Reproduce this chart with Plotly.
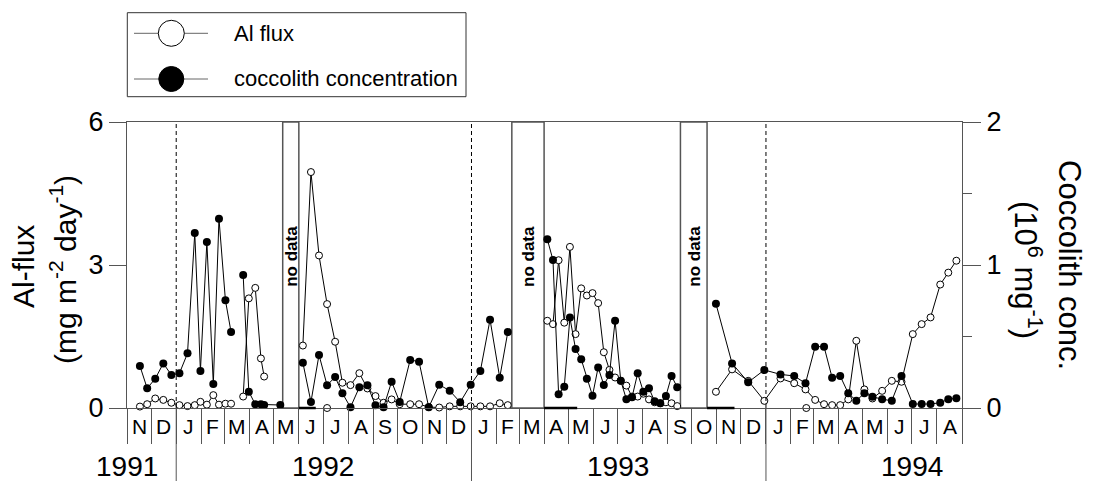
import pandas as pd
import plotly.graph_objects as go

# ---------------- data ----------------
START = pd.Timestamp('1991-11-01')
END = pd.Timestamp('1994-09-01')

# sample days since 1 Nov 1991 (entries with None values are gaps between sampling periods)
sample_day = [16, 25, 35, 45, 55, 65, 75, 84, 91, 99, 107, 114, 122, 129,
              136,
              144, 151, 159, 166, 170, 190,
              204,
              218, 228, 238, 248, 258, 267, 277, 288, 298, 308, 318, 328, 338, 351, 362, 374,
              387, 400, 413, 426, 438, 450, 462, 472,
              496,
              521, 528, 535, 542, 549, 556, 563, 570, 577, 584, 591, 598, 605, 612, 619, 626,
              633, 640, 647, 654, 661, 668, 675, 682,
              705,
              730, 750, 770, 790, 810, 827, 841, 853, 864, 874, 884, 894, 904, 914, 924, 936,
              948, 960, 974, 985, 996, 1008, 1018, 1028]

al_flux = [0.03, 0.08, 0.20, 0.17, 0.11, 0.06, 0.04, 0.06, 0.13, 0.07, 0.27, 0.07, 0.09, 0.09,
           None,
           0.24, 2.30, 2.52, 1.04, 0.66, None,
           None,
           1.31, 4.95, 3.20, 2.18, 1.39, 0.53, 0.48, 0.73, 0.41, 0.25, 0.11, 0.18, 0.08, 0.08, 0.08, 0.02,
           0.01, 0.035, 0.035, 0.035, 0.035, 0.035, 0.10, 0.06,
           None,
           1.83, 1.76, 3.10, 1.79, 3.38, 1.55, 2.51, 2.36, 2.41, 2.20, 1.17, 0.80, 0.64, 0.57, 0.47, 0.24,
           0.24, 0.30, 0.18, 0.12, 0.10, 0.12, 0.10, 0.04,
           None,
           0.34, 0.81, 0.57, 0.15, 0.62, 0.52, 0.39, 0.17, 0.08, 0.06, 0.06, 0.18, 1.41, 0.39, 0.20, 0.36,
           0.57, 0.55, 1.55, 1.76, 1.90, 2.59, 2.84, 3.09]

coccolith = [0.294, 0.138, 0.205, 0.312, 0.231, 0.243, 0.382, 1.224, 0.259, 1.161, 0.168, 1.324, 0.753, 0.531,
             None,
             0.930, 0.114, 0.026, 0.026, 0.021, 0.021,
             None,
             0.317, 0.042, 0.371, 0.159, 0.217, 0.103, 0.005, 0.145, 0.159, 0.019, 0.005, 0.184, 0.042, 0.336,
             0.324, 0.005, 0.163, 0.121, 0.040, 0.163, 0.259, 0.618, 0.212, 0.531,
             None,
             1.180, 1.035, 0.096, 0.149, 0.632, 0.413, 0.341, 0.205, 0.086, 0.284, 0.161, 0.231, 0.611, 0.191,
             0.061, 0.075, 0.243, 0.114, 0.138, 0.047, 0.033, 0.084, 0.224, 0.145,
             None,
             0.729, 0.312, 0.180, 0.266, 0.235, 0.224, 0.173, 0.429, 0.429, 0.212, 0.224, 0.103, 0.051, 0.103,
             0.079, 0.061, 0.051, 0.224, 0.028, 0.028, 0.028, 0.037, 0.061, 0.068]

# isolated Al-flux samples (not connected)
al_single_day = [248, 842]
al_single_val = [0.0, 0.0]

# periods without data (start, end)
no_data = [('1992-05-12', '1992-06-01'), ('1993-02-20', '1993-04-01'), ('1993-09-17', '1993-10-20')]
# short bold segments on the zero line after each gap
zero_bars = [('1992-06-01', '1992-06-22'), ('1993-04-01', '1993-05-12'), ('1993-10-20', '1993-11-23')]

year_labels = ['1991', '1992', '1993', '1994']
year_label_pos = ['1991-11-01', '1992-07-01', '1993-07-01', '1994-07-01']
year_starts = ['1992-01-01', '1993-01-01', '1994-01-01']

legend_labels = ['Al flux', 'coccolith concentration']

# ---------------- layout helpers ----------------
W, H = 1095, 481
L, R, T, B = 127, 962, 122, 408
FONT = 'Liberation Sans, Arial, sans-serif'
AX = '#555555'


def px(x):
    return (x - L) / (R - L)


def py(y):
    return (B - y) / (B - T)


dates = [START + pd.Timedelta(days=d) for d in sample_day]
single_dates = [START + pd.Timedelta(days=d) for d in al_single_day]
month_starts = pd.date_range(START, END, freq='MS')

fig = go.Figure()

fig.add_trace(go.Scatter(
    x=dates, y=al_flux, mode='lines+markers', connectgaps=False, cliponaxis=False,
    line=dict(color='black', width=1),
    marker=dict(symbol='circle', size=7, color='white', line=dict(color='black', width=1)),
    name=legend_labels[0], showlegend=False))
fig.add_trace(go.Scatter(
    x=single_dates, y=al_single_val, mode='markers', cliponaxis=False,
    marker=dict(symbol='circle', size=7, color='white', line=dict(color='black', width=1)),
    showlegend=False))
fig.add_trace(go.Scatter(
    x=dates, y=coccolith, yaxis='y2', mode='lines+markers', connectgaps=False, cliponaxis=False,
    line=dict(color='black', width=1),
    marker=dict(symbol='circle', size=8, color='black'),
    name=legend_labels[1], showlegend=False))

shapes = []
ann = []

# dashed year lines inside the plot
for ys in year_starts:
    shapes.append(dict(type='line', xref='x', yref='paper', x0=ys, x1=ys, y0=0, y1=1,
                       line=dict(color='black', width=1, dash='4px,3px')))
    # long year separators below axis
    shapes.append(dict(type='line', xref='x', yref='paper', x0=ys, x1=ys, y0=0, y1=py(481),
                       line=dict(color=AX, width=1)))

# no-data boxes
for a, b in no_data:
    shapes.append(dict(type='rect', xref='x', yref='paper', x0=a, x1=b, y0=0, y1=1,
                       line=dict(color=AX, width=1.5), fillcolor='white', layer='below'))
    mid = pd.Timestamp(a) + (pd.Timestamp(b) - pd.Timestamp(a)) / 2
    ann.append(dict(x=mid, y=py(256), xref='x', yref='paper', text='<b>no data</b>', showarrow=False,
                    textangle=-90, font=dict(family=FONT, size=17, color='black'),
                    xanchor='center', yanchor='middle'))

for a, b in zero_bars:
    shapes.append(dict(type='line', xref='x', yref='paper', x0=a, x1=b, y0=0, y1=0,
                       line=dict(color='black', width=2.5)))

# month letters
for i in range(len(month_starts) - 1):
    m0, m1 = month_starts[i], month_starts[i + 1]
    mid = m0 + (m1 - m0) / 2
    ann.append(dict(x=mid, y=py(426), xref='x', yref='paper', text=m0.strftime('%b')[0],
                    showarrow=False, font=dict(family=FONT, size=21, color='black'),
                    xanchor='center', yanchor='middle'))

# year labels
for t, pos in zip(year_labels, year_label_pos):
    ann.append(dict(x=pos, y=py(466), xref='x', yref='paper', text=t, showarrow=False,
                    font=dict(family=FONT, size=28, color='black'), xanchor='center', yanchor='middle'))

# axis titles
ann.append(dict(x=px(23), y=py(267), xref='paper', yref='paper', text='Al-flux', showarrow=False,
                textangle=-90, font=dict(family=FONT, size=30, color='black'),
                xanchor='center', yanchor='middle'))
ann.append(dict(x=px(63), y=py(270), xref='paper', yref='paper',
                text='(mg m<sup>-2</sup> day<sup>-1</sup>)', showarrow=False,
                textangle=-90, font=dict(family=FONT, size=30, color='black'),
                xanchor='center', yanchor='middle'))
ann.append(dict(x=px(1070), y=py(265), xref='paper', yref='paper', text='Coccolith conc.', showarrow=False,
                textangle=90, font=dict(family=FONT, size=31, color='black'),
                xanchor='center', yanchor='middle'))
ann.append(dict(x=px(1028), y=py(270), xref='paper', yref='paper',
                text='(10<sup>6</sup> mg<sup>-1</sup>)', showarrow=False,
                textangle=90, font=dict(family=FONT, size=31, color='black'),
                xanchor='center', yanchor='middle'))

# manual legend
shapes.append(dict(type='rect', xref='paper', yref='paper', x0=px(127.3), x1=px(466),
                   y0=py(96.7), y1=py(12.7), line=dict(color='#333333', width=1), fillcolor='white'))
rows = [33.3, 79]
for i, (yy, lab) in enumerate(zip(rows, legend_labels)):
    shapes.append(dict(type='line', xref='paper', yref='paper', x0=px(134), x1=px(208),
                       y0=py(yy), y1=py(yy), line=dict(color='#666666', width=1)))
    r = 13 if i == 0 else 12.5
    shapes.append(dict(type='circle', xref='paper', yref='paper', x0=px(171.3 - r), x1=px(171.3 + r),
                       y0=py(yy + r), y1=py(yy - r),
                       line=dict(color='black', width=1),
                       fillcolor='white' if i == 0 else 'black'))
    ann.append(dict(x=px(232), y=py(yy), xref='paper', yref='paper', text=lab, showarrow=False,
                    font=dict(family=FONT, size=22, color='black'), xanchor='left', yanchor='middle'))

fig.update_layout(
    width=W, height=H,
    margin=dict(l=L, r=W - R, t=T, b=H - B, pad=0),
    paper_bgcolor='white', plot_bgcolor='white',
    showlegend=False,
    font=dict(family=FONT, color='black'),
    xaxis=dict(type='date', range=[START, END], showgrid=False, zeroline=False,
               showline=True, mirror=True, linecolor=AX, linewidth=1,
               tickmode='array', tickvals=list(month_starts), ticks='outside', ticklen=35,
               tickcolor=AX, tickwidth=1, showticklabels=False),
    yaxis=dict(range=[0, 6], tickvals=[0, 3, 6], ticks='outside', ticklen=17, tickcolor=AX,
               showgrid=False, zeroline=False, showline=True, linecolor=AX, linewidth=1,
               tickfont=dict(family=FONT, size=27, color='black')),
    yaxis2=dict(range=[0, 2], overlaying='y', side='right', tickvals=[0, 1, 2], ticks='outside',
                ticklen=18, tickcolor=AX, showgrid=False, zeroline=False, showline=True,
                linecolor=AX, linewidth=1, tickfont=dict(family=FONT, size=27, color='black'),
                minor=dict(tickvals=[0.5, 1.5], ticks='outside', ticklen=9, tickcolor=AX)),
    shapes=shapes, annotations=ann,
)

fig.write_html('out.html', config={'displayModeBar': False})
